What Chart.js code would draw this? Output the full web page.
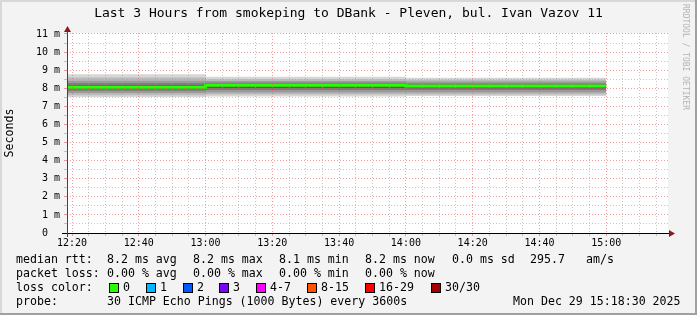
<!DOCTYPE html>
<html><head><meta charset="utf-8">
<script src="https://cdn.jsdelivr.net/npm/chart.js@4.4.0/dist/chart.umd.min.js"></script>
<style>
html,body{margin:0;padding:0;background:#f3f3f3;}
#wrap{position:relative;width:697px;height:315px;overflow:hidden;}
canvas{position:absolute;left:0;top:0;}
.t{position:absolute;font-family:'DejaVu Sans Mono',monospace;font-size:11.6px;line-height:14px;white-space:pre;color:#000;}
.title{position:absolute;left:0;width:697px;top:5px;text-align:center;font-family:'DejaVu Sans Mono',monospace;font-size:13px;line-height:16px;white-space:pre;color:#000;}
.box{position:absolute;width:8px;height:8px;border:1px solid #000;}
</style></head><body>
<div id="wrap"><canvas id="c" width="697" height="315"></canvas><div id="overlay"></div></div>
<script>
// ---------- data ----------
const chartTitle = 'Last 3 Hours from smokeping to DBank - Pleven, bul. Ivan Vazov 11';
const yAxisTitle = 'Seconds';
const watermark = 'RRDTOOL / TOBI OETIKER';
const viewStart = '12:18:30';
const viewEnd = '15:18:30';
const intervalStarts = ['12:00', '13:00', '14:00'];
const intervalEnds = ['13:00', '14:00', '15:00'];
const medianRtt = [8.06, 8.17, 8.13]; // ms, per interval
// smoke bands, outermost (lightest) to innermost (darkest), per interval
const smokeUpper = [
  [8.78, 8.64, 8.58],
  [8.60, 8.50, 8.47],
  [8.42, 8.40, 8.37],
  [8.28, 8.30, 8.27],
  [8.16, 8.24, 8.21]
];
const smokeLower = [
  [7.52, 7.55, 7.57],
  [7.62, 7.65, 7.66],
  [7.74, 7.77, 7.77],
  [7.86, 7.90, 7.90],
  [7.96, 8.02, 8.00]
];
const smokeColors = ['#d6d6d6', '#bababa', '#9a9a9a', '#7a7a7a', '#5a5a5a'];
const xTickLabels = ['12:20', '12:40', '13:00', '13:20', '13:40', '14:00', '14:20', '14:40', '15:00'];
const yTickValues = [0, 1, 2, 3, 4, 5, 6, 7, 8, 9, 10, 11];
const statsRow1 = ['median rtt:', '8.2 ms avg', '8.2 ms max', '8.1 ms min', '8.2 ms now', '0.0 ms sd', '295.7', 'am/s'];
const statsRow2 = ['packet loss:', '0.00 % avg', '0.00 % max', '0.00 % min', '0.00 % now'];
const lossLabel = 'loss color:';
const lossCategories = ['0', '1', '2', '3', '4-7', '8-15', '16-29', '30/30'];
const lossColors = ['#26ff00', '#00b8ff', '#0059ff', '#7e00ff', '#ff00ff', '#ff5500', '#ff0000', '#a10000'];
const probeRow = ['probe:', '30 ICMP Echo Pings (1000 Bytes) every 3600s', 'Mon Dec 29 15:18:30 2025'];

// ---------- helpers ----------
function toMin(s) { const p = s.split(':').map(Number); return p[0] * 60 + p[1] + (p[2] || 0) / 60; }
function stepPoints(vals) {
  const pts = intervalStarts.map((s, i) => ({ x: toMin(s), y: vals[i] }));
  pts.push({ x: toMin(intervalEnds[intervalEnds.length - 1]), y: vals[vals.length - 1] });
  return pts;
}
const xMin = toMin(viewStart), xMax = toMin(viewEnd);
const majorX = xTickLabels.map(toMin);
const minorX = [];
for (let v = Math.ceil(xMin / 5) * 5; v <= xMax; v += 5) minorX.push(v);
const yTicks = [];
for (let v = 0; v <= 11; v += 0.5) yTicks.push(v);

// ---------- datasets ----------
const datasets = [{
  label: 'median rtt', data: stepPoints(medianRtt), stepped: 'before',
  borderColor: '#26ff00', borderWidth: 3, pointRadius: 0, fill: false
}];
for (let k = smokeUpper.length - 1; k >= 0; k--) {
  datasets.push({ label: 'smoke up ' + k, data: stepPoints(smokeUpper[k]), stepped: 'before',
    borderWidth: 0, pointRadius: 0, backgroundColor: smokeColors[k], fill: '+1' });
  datasets.push({ label: 'smoke lo ' + k, data: stepPoints(smokeLower[k]), stepped: 'before',
    borderWidth: 0, pointRadius: 0, fill: false });
}

// ---------- plugins ----------
const frame = {
  id: 'frame',
  beforeDraw(c) {
    const ctx = c.ctx, a = c.chartArea;
    ctx.save();
    ctx.fillStyle = '#f3f3f3'; ctx.fillRect(0, 0, c.width, c.height);
    ctx.fillStyle = '#ffffff'; ctx.fillRect(a.left, a.top, a.right - a.left, a.bottom - a.top);
    ctx.restore();
  },
  afterDraw(c) {
    const ctx = c.ctx, a = c.chartArea;
    ctx.save();
    ctx.strokeStyle = '#000'; ctx.lineWidth = 1;
    ctx.beginPath(); ctx.moveTo(62, a.bottom + 0.5); ctx.lineTo(669, a.bottom + 0.5); ctx.stroke();
    ctx.strokeStyle = '#444';
    ctx.beginPath(); ctx.moveTo(a.left + 0.5, a.bottom + 4); ctx.lineTo(a.left + 0.5, 31); ctx.stroke();
    ctx.fillStyle = '#8b1a1a';
    ctx.beginPath(); ctx.moveTo(669, a.bottom - 3); ctx.lineTo(675, a.bottom + 0.5); ctx.lineTo(669, a.bottom + 4); ctx.closePath(); ctx.fill();
    ctx.beginPath(); ctx.moveTo(a.left - 3, 32); ctx.lineTo(a.left + 0.5, 26); ctx.lineTo(a.left + 4, 32); ctx.closePath(); ctx.fill();
    ctx.translate(685, 4); ctx.rotate(Math.PI / 2);
    ctx.fillStyle = '#b4b4b4'; ctx.font = '8px "DejaVu Sans Mono"'; ctx.textBaseline = 'middle';
    ctx.fillText(watermark, 0, 0);
    ctx.setTransform(1, 0, 0, 1, 0, 0);
    ctx.fillStyle = '#d8d8d8'; ctx.fillRect(0, 0, c.width, 2); ctx.fillRect(0, 0, 2, c.height);
    ctx.fillStyle = '#a0a0a0'; ctx.fillRect(c.width - 2, 0, 2, c.height); ctx.fillRect(0, c.height - 2, c.width, 2);
    ctx.restore();
  }
};

new Chart(document.getElementById('c'), {
  type: 'line',
  data: { datasets },
  options: {
    responsive: false, animation: false, devicePixelRatio: 1,
    layout: { padding: { top: 33, right: 29, left: 0, bottom: 0 } },
    plugins: { legend: { display: false }, title: { display: false }, tooltip: { enabled: false } },
    scales: {
      x: {
        type: 'linear', min: xMin, max: xMax,
        afterBuildTicks: s => { s.ticks = minorX.map(v => ({ value: v })); },
        afterFit: s => { s.height = 82; },
        ticks: {
          autoSkip: false, maxRotation: 0, padding: 1, color: '#000',
          font: { family: 'DejaVu Sans Mono', size: 10 },
          callback: v => majorX.includes(v) ? xTickLabels[majorX.indexOf(v)] : ''
        },
        grid: {
          z: 1, tickLength: 3, lineWidth: 1,
          color: ctx => (ctx.tick && ctx.tick.value % 20 === 0) ? 'rgba(225,95,95,0.6)' : 'rgba(160,160,160,0.6)'
        },
        border: { display: false, dash: [1, 2] }
      },
      y: {
        type: 'linear', min: 0, max: 11.055,
        afterBuildTicks: s => { s.ticks = yTicks.map(v => ({ value: v })); },
        afterFit: s => { s.width = 67; },
        ticks: {
          autoSkip: false, padding: 4, color: '#000',
          font: { family: 'DejaVu Sans Mono', size: 10 },
          callback: v => yTickValues.includes(v) ? (v === 0 ? '0\u00a0\u00a0' : v + ' m') : ''
        },
        grid: {
          z: 1, tickLength: 3, lineWidth: 1,
          color: ctx => (ctx.tick && Number.isInteger(ctx.tick.value)) ? 'rgba(225,95,95,0.6)' : 'rgba(160,160,160,0.6)'
        },
        border: { display: false, dash: [1, 2] },
        title: { display: true, text: yAxisTitle, color: '#000', padding: { top: 3, bottom: 0 },
          font: { family: 'DejaVu Sans Mono', size: 11.6 } }
      }
    }
  },
  plugins: [frame]
});

// ---------- text overlay (legend) ----------
const ov = document.getElementById('overlay');
function addText(x, y, s, cls) { const d = document.createElement('div'); d.className = cls || 't'; d.style.left = x + 'px'; d.style.top = y + 'px'; d.textContent = s; ov.appendChild(d); return d; }
const tdiv = document.createElement('div'); tdiv.className = 'title'; tdiv.textContent = chartTitle; ov.appendChild(tdiv);
const colX = [16, 107, 193, 279, 365, 452, 530, 586];
statsRow1.forEach((s, i) => addText(colX[i], 252, s));
statsRow2.forEach((s, i) => addText(colX[i], 266, s));
addText(16, 280, lossLabel);
const boxX = [109, 146, 183, 219, 256, 307, 365, 431];
lossCategories.forEach((s, i) => {
  const b = document.createElement('div'); b.className = 'box'; b.style.left = boxX[i] + 'px'; b.style.top = '283px'; b.style.background = lossColors[i]; ov.appendChild(b);
  addText(boxX[i] + 14, 280, s);
});
addText(16, 294, probeRow[0]);
addText(107, 294, probeRow[1]);
addText(513, 294, probeRow[2]);
</script>
</body></html>
